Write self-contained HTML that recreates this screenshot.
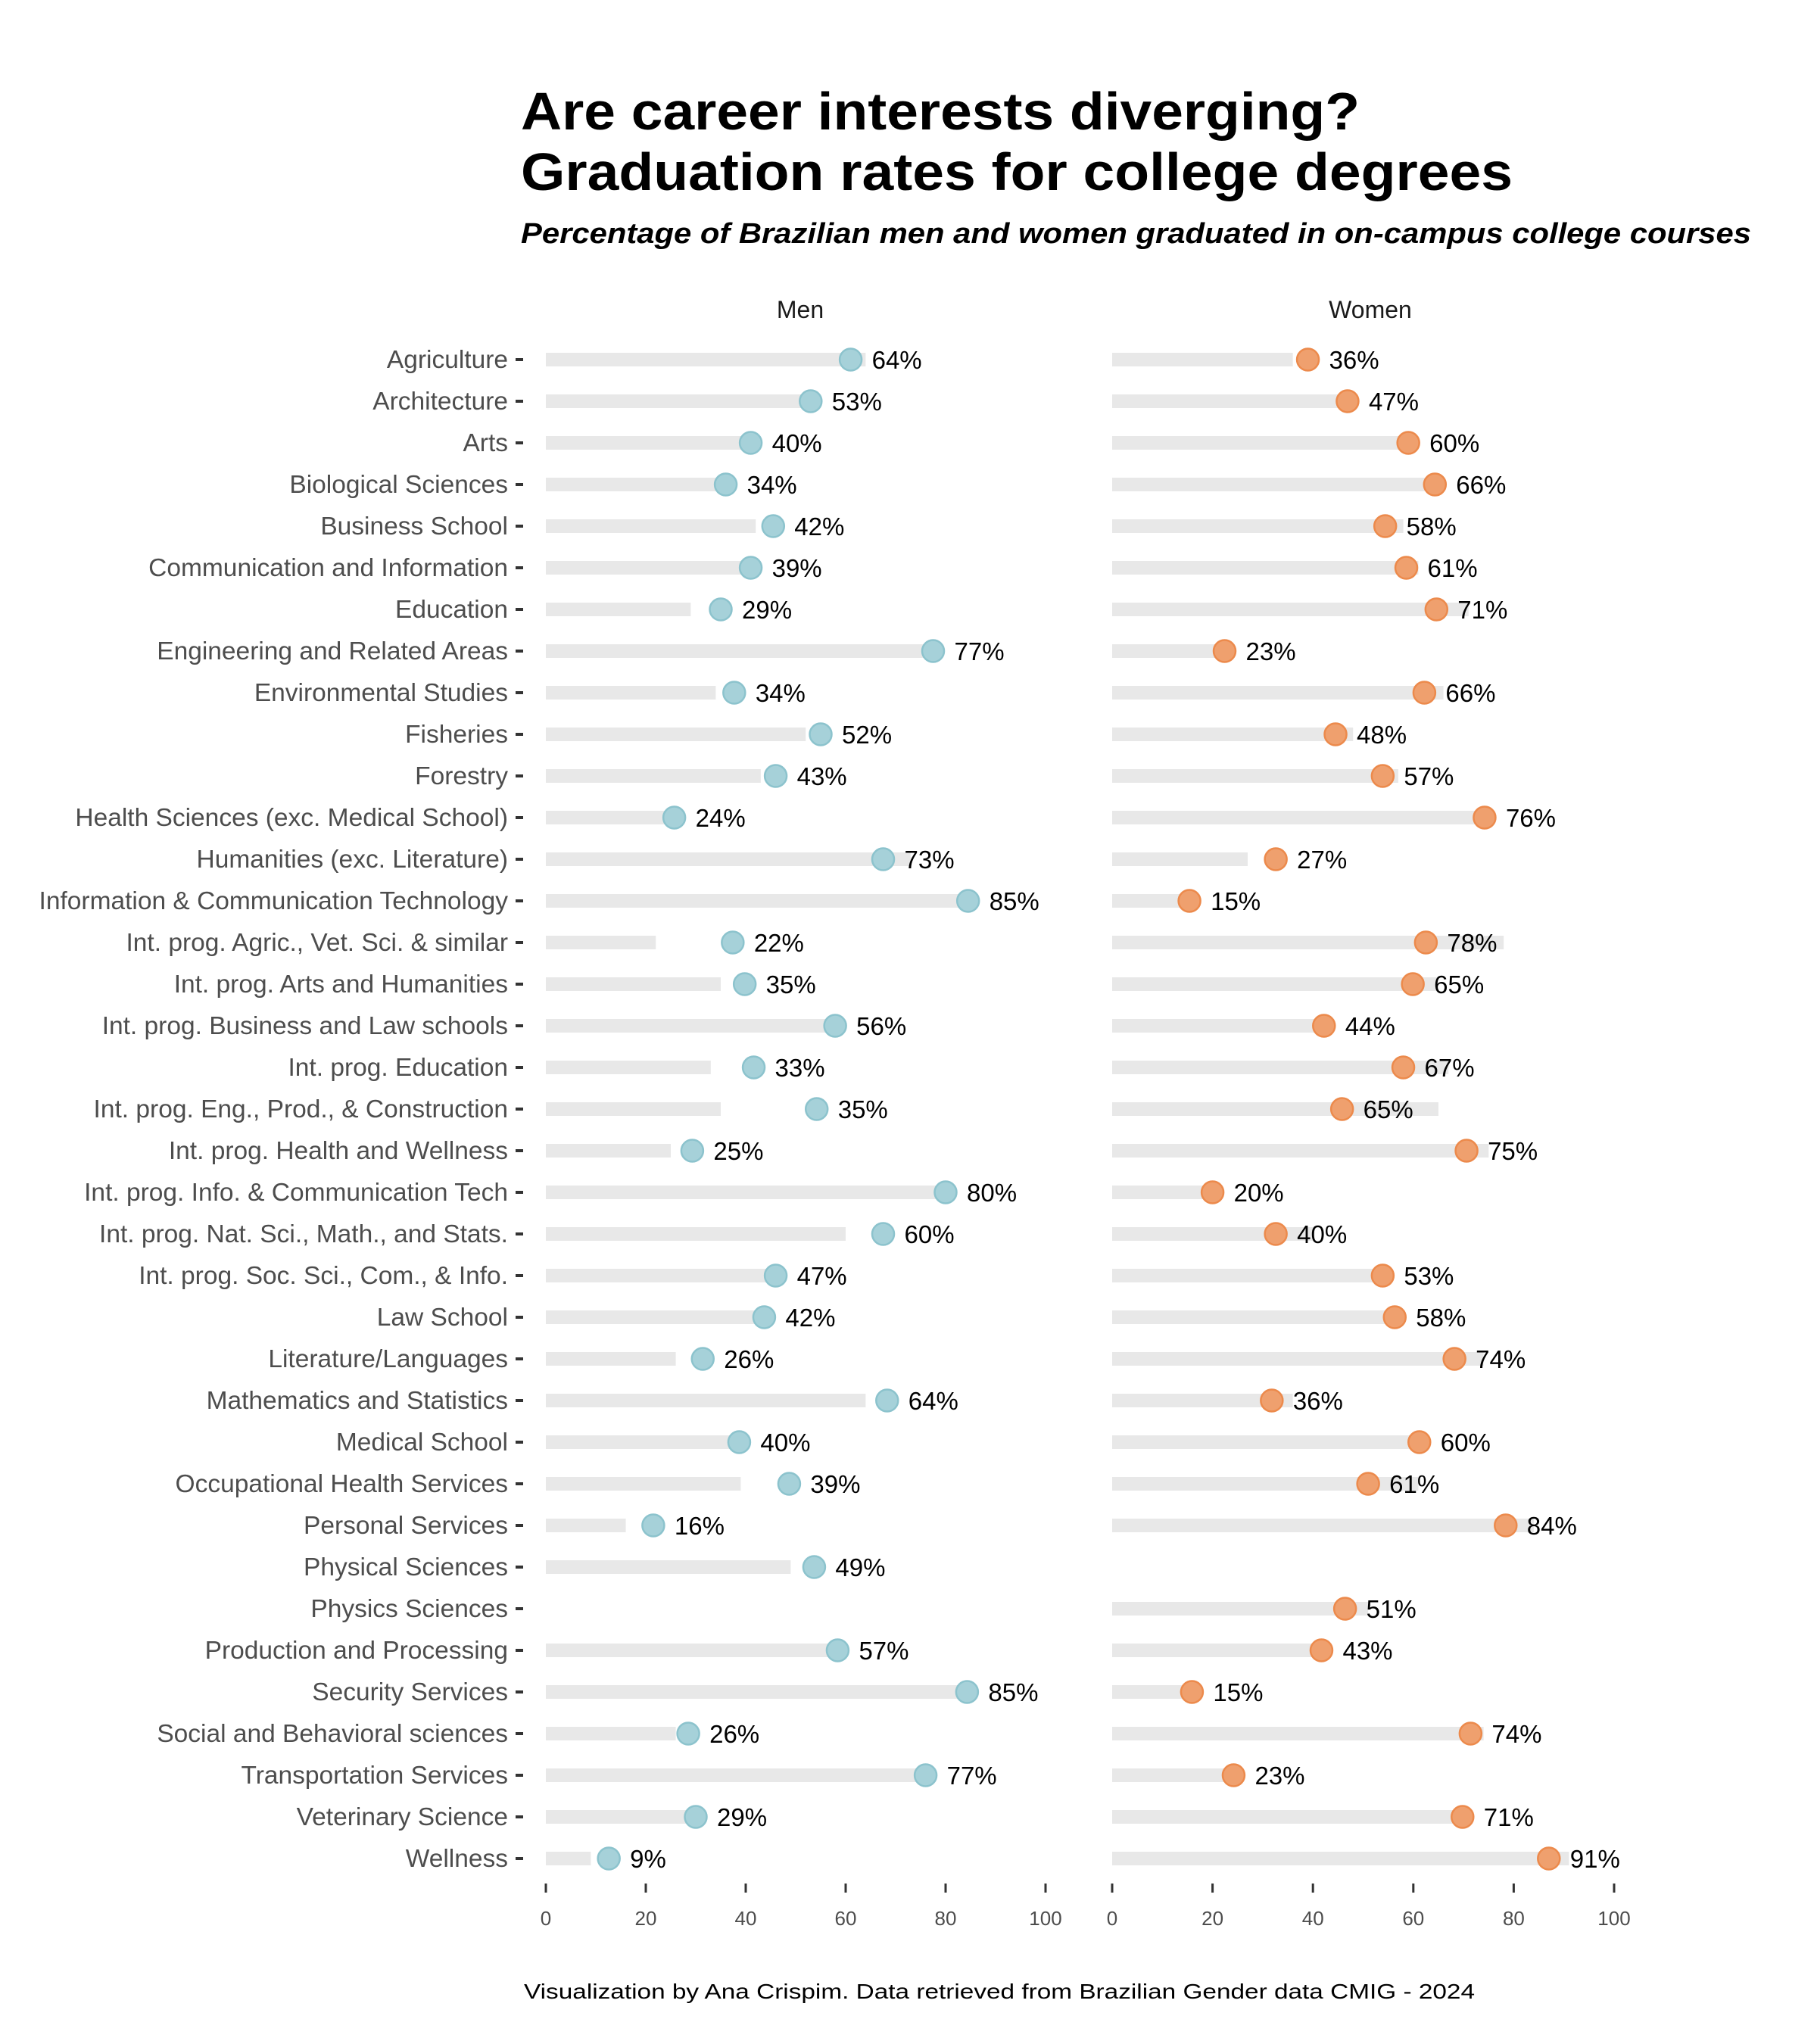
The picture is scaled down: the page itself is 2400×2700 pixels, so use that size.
<!DOCTYPE html>
<html><head><meta charset="utf-8"><style>
html,body{margin:0;padding:0;background:#fff;}
svg{display:block;font-family:"Liberation Sans",Arial,sans-serif;}
</style></head><body>
<svg id="chart" width="2400" height="2700" viewBox="0 0 2400 2700" xmlns="http://www.w3.org/2000/svg">
<rect width="2400" height="2700" fill="#fff"/>
<text x="688" y="171" font-size="70" font-weight="bold" fill="#000" textLength="1108" lengthAdjust="spacingAndGlyphs">Are career interests diverging?</text>
<text x="688" y="251" font-size="70" font-weight="bold" fill="#000" textLength="1310" lengthAdjust="spacingAndGlyphs">Graduation rates for college degrees</text>
<text x="688" y="321" font-size="38" font-weight="bold" font-style="italic" fill="#000" textLength="1625" lengthAdjust="spacingAndGlyphs">Percentage of Brazilian men and women graduated in on-campus college courses</text>
<text x="1057" y="420" font-size="32" fill="#1a1a1a" text-anchor="middle">Men</text>
<text x="1810" y="420" font-size="32" fill="#1a1a1a" text-anchor="middle">Women</text>
<text x="692" y="2640" font-size="28" fill="#000" textLength="1256" lengthAdjust="spacingAndGlyphs">Visualization by Ana Crispim. Data retrieved from Brazilian Gender data CMIG - 2024</text>
<g id="plot"></g>
</svg>
<script>
const categories = ["Agriculture","Architecture","Arts","Biological Sciences","Business School","Communication and Information","Education","Engineering and Related Areas","Environmental Studies","Fisheries","Forestry","Health Sciences (exc. Medical School)","Humanities (exc. Literature)","Information & Communication Technology","Int. prog. Agric., Vet. Sci. & similar","Int. prog. Arts and Humanities","Int. prog. Business and Law schools","Int. prog. Education","Int. prog. Eng., Prod., & Construction","Int. prog. Health and Wellness","Int. prog. Info. & Communication Tech","Int. prog. Nat. Sci., Math., and Stats.","Int. prog. Soc. Sci., Com., & Info.","Law School","Literature/Languages","Mathematics and Statistics","Medical School","Occupational Health Services","Personal Services","Physical Sciences","Physics Sciences","Production and Processing","Security Services","Social and Behavioral sciences","Transportation Services","Veterinary Science","Wellness"];
const menBar = [64,53,40,34,42,39,29,77,34,52,43,24,73,85,22,35,56,33,35,25,80,60,47,42,26,64,40,39,16,49,null,57,85,26,77,29,9];
const menDot = [61,53,41,36,45.5,41,35,77.5,37.7,55,46,25.7,67.5,84.5,37.4,39.8,57.9,41.6,54.2,29.3,80,67.5,46,43.7,31.4,68.3,38.7,48.7,21.5,53.7,null,58.4,84.3,28.5,76,30,12.6];
const womenBar = [36,47,60,66,58,61,71,23,66,48,57,76,27,15,78,65,44,67,65,75,20,40,53,58,74,36,60,61,84,null,51,43,15,74,23,71,91];
const womenDot = [39,46.9,59,64.3,54.4,58.6,64.6,22.4,62.2,44.5,53.9,74.2,32.6,15.4,62.5,59.9,42.2,58,45.8,70.6,20,32.6,53.9,56.3,68.2,31.8,61.2,51,78.4,null,46.4,41.7,15.9,71.4,24.2,69.8,87];
const ticks = [0,20,40,60,80,100];

const NS = "http://www.w3.org/2000/svg";
const plot = document.getElementById("plot");
function mk(tag, attrs, parent){const e=document.createElementNS(NS,tag);for(const k in attrs)e.setAttribute(k,attrs[k]);(parent||plot).appendChild(e);return e;}
const xMen = v => 721 + v*6.6;
const xWomen = v => 1469 + v*6.63;
const yRow = i => 475 + i*55.0;

const panels = [
 {name:"men", x:xMen, bar:menBar, dot:menDot, fill:"#a6d1d9", stroke:"#8cc3cd"},
 {name:"women", x:xWomen, bar:womenBar, dot:womenDot, fill:"#efa06e", stroke:"#ec8a4c"}
];

categories.forEach((c,i)=>{
  const y=yRow(i);
  const t=mk("text",{x:671,y:y+11,"font-size":33.5,fill:"#4d4d4d","text-anchor":"end"});
  t.textContent=c;
  
  
  const tk=mk("rect",{x:681,y:y-2,width:10,height:4,fill:"#333"});
  
  
});

panels.forEach(p=>{
  const g=mk("g",{});
  
  
  categories.forEach((c,i)=>{
    if(p.bar[i]===null) return;
    const y=yRow(i);
    const b=mk("rect",{x:p.x(0),y:y-9,width:p.x(p.bar[i])-p.x(0),height:18,fill:"#e8e8e8"},g);
    
    
  });
  categories.forEach((c,i)=>{
    if(p.dot[i]===null) return;
    const y=yRow(i);
    const d=mk("circle",{cx:p.x(p.dot[i]),cy:y,r:14.5,fill:p.fill,stroke:p.stroke,"stroke-width":2.5},g);
    
    
  });
  categories.forEach((c,i)=>{
    if(p.bar[i]===null) return;
    const y=yRow(i);
    const l=mk("text",{x:p.x(p.dot[i])+28,y:y+12,"font-size":33,fill:"#000"},g);
    l.textContent=p.bar[i]+"%";
    
    
  });
  ticks.forEach(t=>{
    const tm=mk("rect",{x:p.x(t)-1.5,y:2488,width:3,height:12,fill:"#333"},g);
    
    
    const tl=mk("text",{x:p.x(t),y:2543,"font-size":26,fill:"#4d4d4d","text-anchor":"middle"},g);
    tl.textContent=t;
    
    
  });
});
</script>
</body></html>
